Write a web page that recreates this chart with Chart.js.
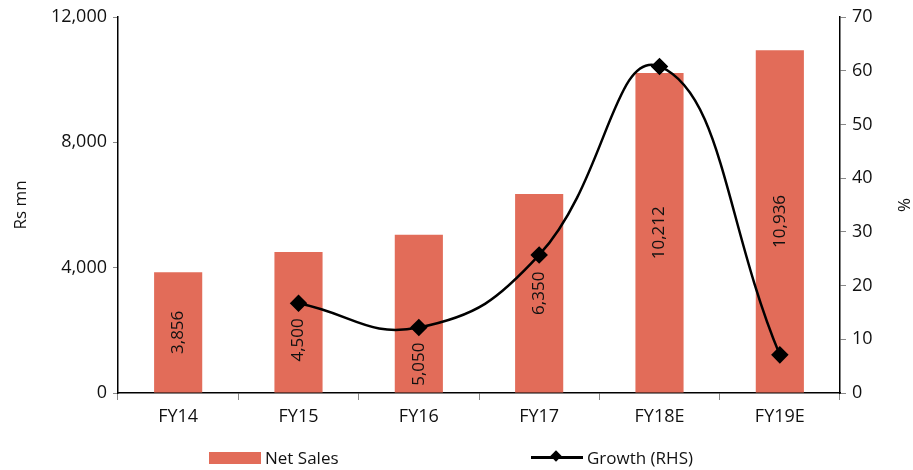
<!DOCTYPE html>
<html>
<head>
<meta charset="utf-8">
<script src="https://cdn.jsdelivr.net/npm/chart.js@4"></script>
<style>
  html, body { margin: 0; padding: 0; background: #fff; }
  #wrap { position: relative; width: 913px; height: 470px; }
  .legend { position: absolute; top: 446px; font: 17px "Open Sans", sans-serif; color: #111; display: flex; align-items: center; }
  .sw-bar { width: 52px; height: 12px; background: #E26C59; margin-right: 4px; }
  .sw-line { position: relative; width: 52px; height: 3px; background: #000; margin-right: 4px; }
  .sw-line::after { content: ""; position: absolute; left: 21px; top: -4px; width: 8px; height: 8px; background: #000; transform: rotate(45deg); }
</style>
</head>
<body>
<div id="wrap">
  <canvas id="chart" width="913" height="470"></canvas>
  <div class="legend" style="left:209px"><div class="sw-bar"></div>Net Sales</div>
  <div class="legend" style="left:531px"><div class="sw-line"></div>Growth (RHS)</div>
</div>
<script>
// 資料
const years = ['FY14', 'FY15', 'FY16', 'FY17', 'FY18E', 'FY19E'];
const netSales = [3856, 4500, 5050, 6350, 10212, 10936];
const growth = [null, 16.7, 12.2, 25.7, 60.8, 7.1];
const leftTicks = [0, 4000, 8000, 12000];

const FONT = '"Open Sans", sans-serif';
const tickFont = { family: FONT, size: 18 };

// 柱內直排數值標籤 (若與折線節點重疊則往下移)
const barLabels = {
  id: 'barLabels',
  afterDatasetsDraw(chart) {
    const ctx = chart.ctx;
    const bars = chart.getDatasetMeta(1).data;
    const pts = chart.getDatasetMeta(0).data;
    ctx.save();
    ctx.font = '17px ' + FONT;
    ctx.fillStyle = '#111';
    ctx.textAlign = 'center';
    ctx.textBaseline = 'middle';
    bars.forEach((bar, i) => {
      const txt = netSales[i].toLocaleString('en-US');
      const half = ctx.measureText(txt).width / 2;
      let y = (bar.y + bar.base) / 2;
      const p = pts[i];
      if (growth[i] !== null && p && p.y > y - half - 10 && p.y < y + half + 10) {
        y = p.y + 15 + half;
      }
      ctx.save();
      ctx.translate(bar.x, y);
      ctx.rotate(-Math.PI / 2);
      ctx.fillText(txt, 0, 0);
      ctx.restore();
    });
    ctx.restore();
  }
};

new Chart(document.getElementById('chart'), {
  data: {
    labels: years,
    datasets: [
      {
        type: 'line',
        label: 'Growth (RHS)',
        data: growth,
        yAxisID: 'y2',
        borderColor: '#000',
        backgroundColor: '#000',
        borderWidth: 2.5,
        tension: 0.45,
        pointStyle: 'rectRot',
        pointRadius: 7,
        pointBackgroundColor: '#000',
        order: 0
      },
      {
        type: 'bar',
        label: 'Net Sales',
        data: netSales,
        yAxisID: 'y',
        backgroundColor: '#E26C59',
        barPercentage: 0.8,
        categoryPercentage: 0.5,
        order: 1
      }
    ]
  },
  options: {
    responsive: false,
    animation: false,
    layout: { padding: { left: 0, right: 0, top: 17, bottom: 37 } },
    plugins: { legend: { display: false }, tooltip: { enabled: false } },
    scales: {
      x: {
        offset: true,
        grid: { offset: true, drawOnChartArea: false, tickLength: 7, color: '#888' },
        border: { color: '#000', width: 1.5 },
        ticks: { font: tickFont, color: '#111', padding: 6 },
        afterFit(s) { s.height = 40; }
      },
      y: {
        position: 'left',
        min: 0, max: 12000,
        afterBuildTicks(s) { s.ticks = leftTicks.map(v => ({ value: v })); },
        grid: { drawOnChartArea: false, tickLength: 5, color: '#888' },
        border: { color: '#000', width: 1.5 },
        ticks: { font: tickFont, color: '#111', padding: 6, callback: v => v.toLocaleString('en-US') },
        title: { display: true, text: 'Rs mn', font: { family: FONT, size: 17 }, color: '#111', padding: { top: 11, bottom: 0 } },
        afterFit(s) { s.width = 118; }
      },
      y2: {
        position: 'right',
        min: 0, max: 70,
        grid: { drawOnChartArea: false, tickLength: 6, color: '#888' },
        border: { color: '#000', width: 1.5 },
        ticks: { stepSize: 10, font: tickFont, color: '#111', padding: 6 },
        title: { display: true, text: '%', font: { family: FONT, size: 17 }, color: '#111', padding: { top: 0, bottom: 8 } },
        afterFit(s) { s.width = 73; }
      }
    }
  },
  plugins: [barLabels]
});
</script>
</body>
</html>
